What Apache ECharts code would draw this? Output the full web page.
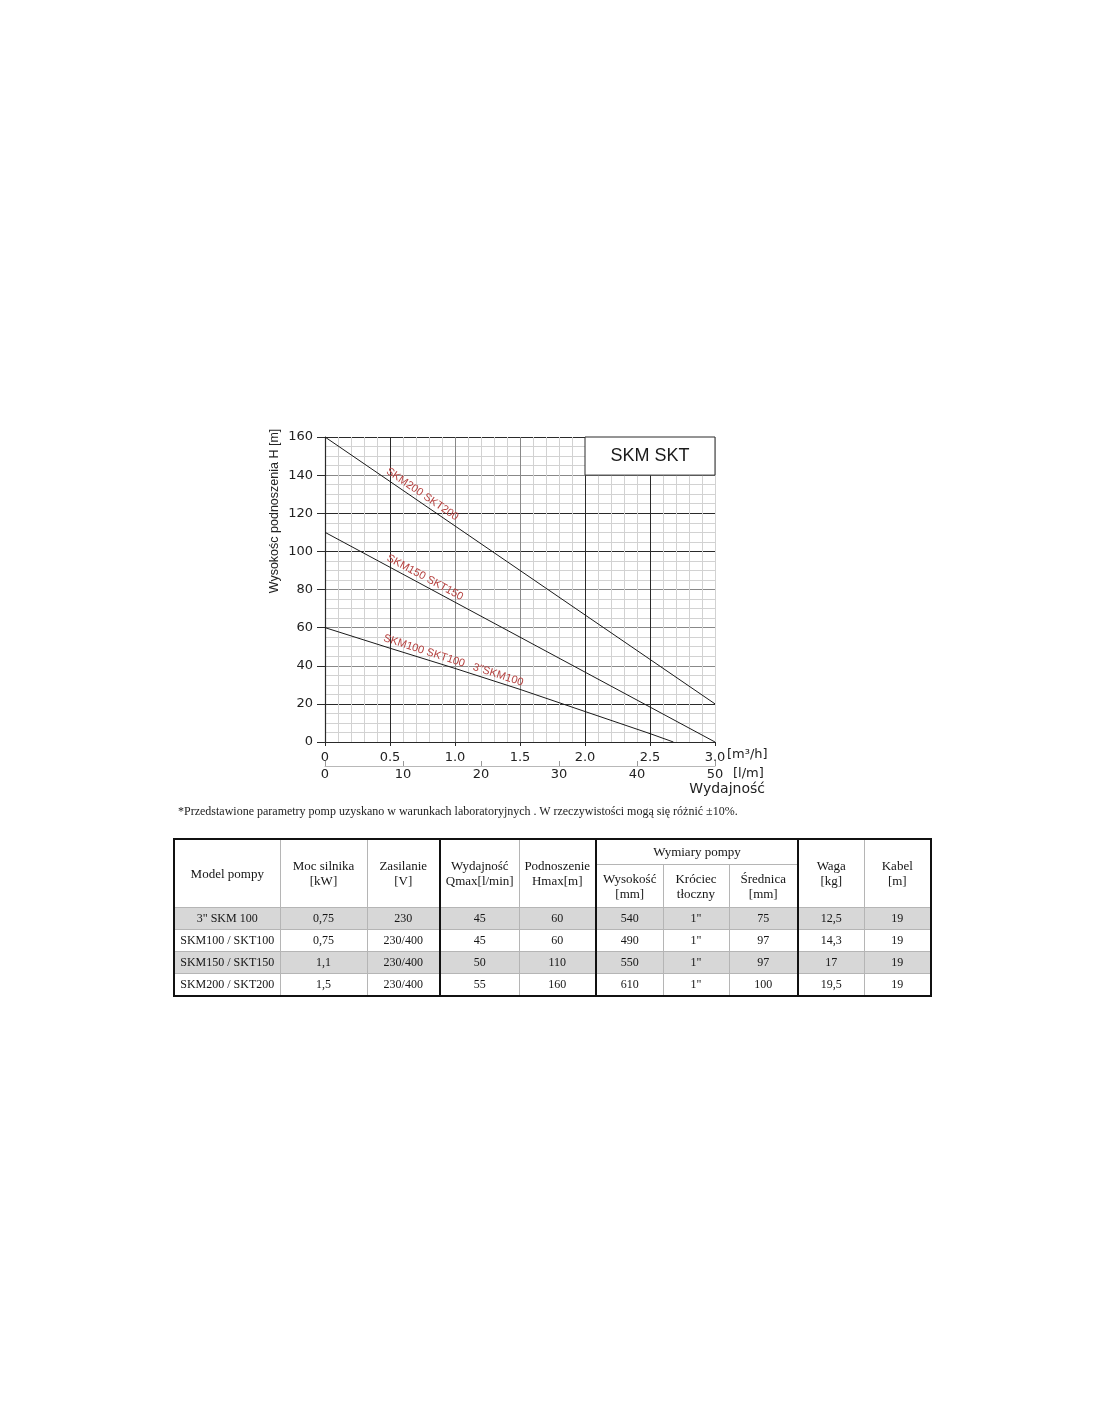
<!DOCTYPE html>
<html>
<head>
<meta charset="utf-8">
<script src="https://cdn.jsdelivr.net/npm/echarts@6/dist/echarts.min.js"></script>
<style>
  html, body { margin:0; padding:0; background:#fff; }
  #chart { position:absolute; left:0; top:0; width:1100px; height:1422px; }
  #note { position:absolute; left:178px; top:804px; font-family:'Liberation Serif','Times New Roman',serif; font-size:12px; color:#222; white-space:nowrap; }
  #tbl { position:absolute; left:173px; top:838px; border-collapse:collapse; table-layout:fixed; width:757px;
         font-family:'Liberation Serif','Times New Roman',serif; color:#151515; border:2.5px solid #111; }
  #tbl th, #tbl td { border:1px solid #b5b5b5; text-align:center; padding:0; font-weight:normal; overflow:hidden; }
  #tbl th { font-size:13px; line-height:15px; }
  #tbl td { font-size:12px; height:21px; }
  #tbl .tk { border-left:2px solid #111; }
  #tbl tr.g td { background:#d7d7d7; }
</style>
</head>
<body>
<div id="chart"></div>
<div id="note">*Przedstawione parametry pomp uzyskano w warunkach laboratoryjnych . W rzeczywistości mogą się różnić ±10%.</div>
<table id="tbl"></table>
<script>
// ---- chart data ----
const xTickLabelsM3h = ['0', '0.5', '1.0', '1.5', '2.0', '2.5', '3.0'];
const xTickLabelsLm = ['0', '10', '20', '30', '40', '50'];
const yTickLabels = ['0', '20', '40', '60', '80', '100', '120', '140', '160'];

const skm200Q = [0, 3.0];
const skm200H = [160, 20];
const skm150Q = [0, 3.0];
const skm150H = [110, 0];
const skm100Q = [0, 0.5, 1.0, 1.5, 2.0, 2.5, 2.68];
const skm100H = [60, 49.2, 38.6, 27.6, 16.0, 4.4, 0];

const curveNames = ['SKM200 SKT200', 'SKM150 SKT150', 'SKM100 SKT100   3"SKM100'];

// ---- table data ----
const tblModels = ['3" SKM 100', 'SKM100 / SKT100', 'SKM150 / SKT150', 'SKM200 / SKT200'];
const tblPower = ['0,75', '0,75', '1,1', '1,5'];
const tblVoltage = ['230', '230/400', '230/400', '230/400'];
const tblQmax = ['45', '45', '50', '55'];
const tblHmax = ['60', '60', '110', '160'];
const tblHeight = ['540', '490', '550', '610'];
const tblOutlet = ['1"', '1"', '1"', '1"'];
const tblDiameter = ['75', '97', '97', '100'];
const tblWeight = ['12,5', '14,3', '17', '19,5'];
const tblCable = ['19', '19', '19', '19'];

const zip = (a, b) => a.map((v, i) => [v, b[i]]);

const DARK = '#2a2a2a', MID = '#888888', LIGHT = '#d2d2d2';
const RED = '#b5413f';
const tickFont = 'DejaVu Sans, Verdana, sans-serif';
const labelFont = '"Liberation Sans", Arial, sans-serif';

// label anchored at its centre, just above the curve
function curveLabel(text, q, h, rot) {
  return {
    symbol: 'circle', symbolSize: 0,
    data: [{ coord: [q, h] }],
    label: {
      show: true, position: 'inside', formatter: text, rotate: rot,
      align: 'center', verticalAlign: 'middle',
      color: RED, fontFamily: labelFont, fontSize: 11
    },
    itemStyle: { color: 'transparent' }
  };
}

const chart = echarts.init(document.getElementById('chart'), null, { renderer: 'canvas' });
chart.setOption({
  animation: false,
  backgroundColor: '#fff',
  grid: { left: 325, right: 385, top: 437, bottom: 680, containLabel: false, outerBoundsMode: 'none' },
  xAxis: [
    {
      type: 'value', min: 0, max: 3.0, interval: 0.5, position: 'bottom',
      axisLine: { show: true, onZero: false, lineStyle: { color: DARK, width: 1.2 } },
      axisTick: { show: true, length: 4, lineStyle: { color: DARK } },
      axisLabel: { margin: 9, color: '#222', fontFamily: tickFont, fontSize: 13,
        formatter: (v) => xTickLabelsM3h[Math.round(v / 0.5)] },
      splitLine: { show: true, lineStyle: { color: [DARK, DARK, MID, MID, DARK, DARK, LIGHT], width: 1 } },
      minorTick: { show: true, splitNumber: 5, length: 0 },
      minorSplitLine: { show: true, lineStyle: { color: LIGHT, width: 1 } }
    },
    {
      type: 'value', min: 0, max: 50, interval: 10, position: 'bottom', offset: 24,
      axisLine: { show: true, onZero: false, lineStyle: { color: '#b8b8b8', width: 1 } },
      axisTick: { show: true, inside: true, length: 5, lineStyle: { color: '#999' } },
      axisLabel: { margin: 2, color: '#222', fontFamily: tickFont, fontSize: 13,
        formatter: (v) => xTickLabelsLm[Math.round(v / 10)] },
      splitLine: { show: false }
    }
  ],
  yAxis: {
    type: 'value', min: 0, max: 160, interval: 20,
    axisLine: { show: true, onZero: false, lineStyle: { color: DARK, width: 1.2 } },
    axisTick: { show: true, length: 8, lineStyle: { color: DARK } },
    axisLabel: { margin: 12, color: '#222', fontFamily: tickFont, fontSize: 13,
      formatter: (v) => yTickLabels[Math.round(v / 20)] },
    splitLine: { show: true, lineStyle: { color: [DARK, DARK, MID, MID, MID, DARK, DARK, MID, DARK], width: 1 } },
    minorTick: { show: true, splitNumber: 4, length: 0 },
    minorSplitLine: { show: true, lineStyle: { color: LIGHT, width: 1 } }
  },
  graphic: [
    { type: 'text', x: 275, y: 511, rotation: Math.PI / 2,
      style: { text: 'Wysokośc podnoszenia H [m]', fill: '#222', font: '12.5px "Liberation Sans", Arial, sans-serif', align: 'center', verticalAlign: 'middle' } },
    { type: 'text', x: 727, y: 755,
      style: { text: '[m³/h]', fill: '#222', font: '13px "DejaVu Sans", Verdana, sans-serif', align: 'left', verticalAlign: 'middle' } },
    { type: 'text', x: 733, y: 774,
      style: { text: '[l/m]', fill: '#222', font: '13px "DejaVu Sans", Verdana, sans-serif', align: 'left', verticalAlign: 'middle' } },
    { type: 'text', x: 765, y: 789,
      style: { text: 'Wydajność', fill: '#222', font: '14px "DejaVu Sans", Verdana, sans-serif', align: 'right', verticalAlign: 'middle' } }
  ],
  series: [
    {
      type: 'line', name: curveNames[0], data: zip(skm200Q, skm200H), showSymbol: false, symbol: 'none',
      lineStyle: { color: '#1a1a1a', width: 1 }, z: 3,
      markPoint: curveLabel(curveNames[0], 0.748, 130.0, -34.4),
      markArea: {
        silent: true,
        itemStyle: { color: '#ffffff', borderColor: DARK, borderWidth: 1 },
        label: { show: true, position: 'inside', formatter: 'SKM SKT', color: '#1a1a1a',
          fontFamily: '"Liberation Sans", Arial, sans-serif', fontSize: 18 },
        data: [[{ coord: [2.0, 160] }, { coord: [3.0, 140] }]]
      }
    },
    {
      type: 'line', name: curveNames[1], data: zip(skm150Q, skm150H), showSymbol: false, symbol: 'none',
      lineStyle: { color: '#1a1a1a', width: 1 }, z: 3,
      markPoint: curveLabel(curveNames[1], 0.769, 86.3, -28.3)
    },
    {
      type: 'line', name: curveNames[2], data: zip(skm100Q, skm100H), showSymbol: false, symbol: 'none',
      lineStyle: { color: '#1a1a1a', width: 1 }, z: 3,
      markPoint: curveLabel(curveNames[2], 0.987, 42.8, -17.9)
    }
  ]
});

// ---- build table ----
const tbl = document.getElementById('tbl');
const colW = [106, 87, 73, 79, 77, 67, 66, 69, 66, 67];
let html = '<colgroup>' + colW.map(w => `<col style="width:${w}px">`).join('') + '</colgroup>';
html += '<tr style="height:25px">' +
  '<th rowspan="2">Model pompy</th>' +
  '<th rowspan="2">Moc silnika<br>[kW]</th>' +
  '<th rowspan="2">Zasilanie<br>[V]</th>' +
  '<th rowspan="2" class="tk">Wydajność<br>Qmax[l/min]</th>' +
  '<th rowspan="2">Podnoszenie<br>Hmax[m]</th>' +
  '<th colspan="3" class="tk">Wymiary pompy</th>' +
  '<th rowspan="2" class="tk">Waga<br>[kg]</th>' +
  '<th rowspan="2">Kabel<br>[m]</th></tr>';
html += '<tr style="height:43px">' +
  '<th class="tk">Wysokość<br>[mm]</th><th>Króciec<br>tłoczny</th><th>Średnica<br>[mm]</th></tr>';
tblModels.forEach((m, i) => {
  html += `<tr class="${i % 2 === 0 ? 'g' : ''}">` +
    `<td>${m}</td><td>${tblPower[i]}</td><td>${tblVoltage[i]}</td>` +
    `<td class="tk">${tblQmax[i]}</td><td>${tblHmax[i]}</td>` +
    `<td class="tk">${tblHeight[i]}</td><td>${tblOutlet[i]}</td><td>${tblDiameter[i]}</td>` +
    `<td class="tk">${tblWeight[i]}</td><td>${tblCable[i]}</td></tr>`;
});
tbl.innerHTML = html;
</script>
</body>
</html>
